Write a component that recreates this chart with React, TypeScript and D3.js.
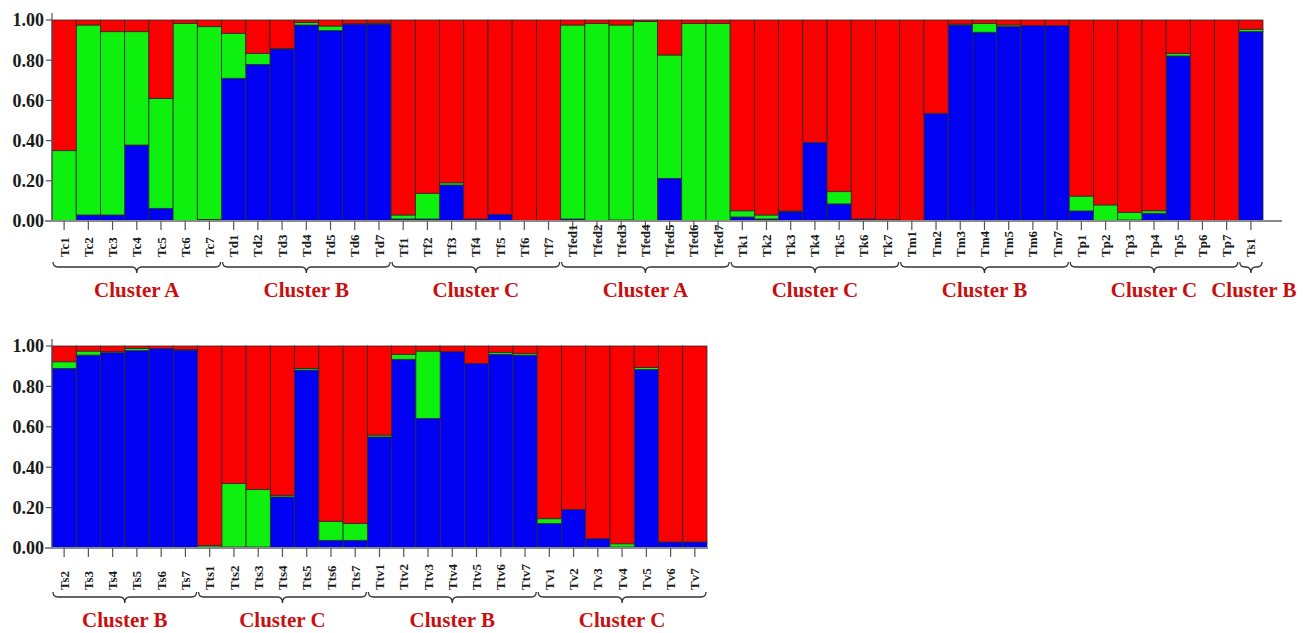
import React from 'react';
import * as d3 from 'd3';

// STRUCTURE-like ancestry bar plot (K = 3), two panels

const topLabels = [
  'Tc1', 'Tc2', 'Tc3', 'Tc4', 'Tc5', 'Tc6', 'Tc7',
  'Td1', 'Td2', 'Td3', 'Td4', 'Td5', 'Td6', 'Td7',
  'Tf1', 'Tf2', 'Tf3', 'Tf4', 'Tf5', 'Tf6', 'Tf7',
  'Tfed1', 'Tfed2', 'Tfed3', 'Tfed4', 'Tfed5', 'Tfed6', 'Tfed7',
  'Tk1', 'Tk2', 'Tk3', 'Tk4', 'Tk5', 'Tk6', 'Tk7',
  'Tm1', 'Tm2', 'Tm3', 'Tm4', 'Tm5', 'Tm6', 'Tm7',
  'Tp1', 'Tp2', 'Tp3', 'Tp4', 'Tp5', 'Tp6', 'Tp7',
  'Ts1'
];
const topBlue = [
  0, 0.03, 0.03, 0.378, 0.063, 0, 0.008,
  0.71, 0.779, 0.856, 0.975, 0.947, 0.98, 0.98,
  0.01, 0.01, 0.179, 0.01, 0.033, 0.002, 0,
  0.01, 0.003, 0.005, 0, 0.212, 0, 0,
  0.02, 0.01, 0.046, 0.39, 0.085, 0.01, 0.007,
  0.003, 0.536, 0.975, 0.939, 0.967, 0.972, 0.972,
  0.05, 0.003, 0.005, 0.038, 0.821, 0, 0,
  0.942
];
const topGreen = [
  0.35, 0.945, 0.912, 0.564, 0.547, 0.983, 0.959,
  0.224, 0.055, 0.003, 0.012, 0.023, 0.002, 0.005,
  0.02, 0.128, 0.011, 0, 0, 0, 0,
  0.965, 0.98, 0.97, 0.993, 0.614, 0.983, 0.983,
  0.031, 0.02, 0.004, 0, 0.061, 0, 0,
  0, 0, 0.005, 0.044, 0.008, 0, 0,
  0.074, 0.077, 0.038, 0.013, 0.013, 0, 0,
  0.012
];
const topRed = [
  0.65, 0.025, 0.058, 0.058, 0.39, 0.017, 0.033,
  0.066, 0.166, 0.141, 0.013, 0.03, 0.018, 0.015,
  0.97, 0.862, 0.81, 0.99, 0.967, 0.998, 1,
  0.025, 0.017, 0.025, 0.007, 0.174, 0.017, 0.017,
  0.949, 0.97, 0.95, 0.61, 0.854, 0.99, 0.993,
  0.997, 0.464, 0.02, 0.017, 0.025, 0.028, 0.028,
  0.876, 0.92, 0.957, 0.949, 0.166, 1, 1,
  0.046
];
const topGroupNames = ['Cluster A', 'Cluster B', 'Cluster C', 'Cluster A', 'Cluster C', 'Cluster B', 'Cluster C', 'Cluster B'];
const topGroupSizes = [7, 7, 7, 7, 7, 7, 7, 1];

const bottomLabels = [
  'Ts2', 'Ts3', 'Ts4', 'Ts5', 'Ts6', 'Ts7',
  'Tts1', 'Tts2', 'Tts3', 'Tts4', 'Tts5', 'Tts6', 'Tts7',
  'Ttv1', 'Ttv2', 'Ttv3', 'Ttv4', 'Ttv5', 'Ttv6', 'Ttv7',
  'Tv1', 'Tv2', 'Tv3', 'Tv4', 'Tv5', 'Tv6', 'Tv7'
];
const bottomBlue = [
  0.889, 0.955, 0.967, 0.977, 0.988, 0.98,
  0.005, 0.005, 0.005, 0.253, 0.881, 0.038, 0.038,
  0.55, 0.934, 0.641, 0.972, 0.914, 0.959, 0.955,
  0.121, 0.19, 0.046, 0.005, 0.884, 0.03, 0.03
];
const bottomGreen = [
  0.033, 0.02, 0.005, 0.011, 0, 0.003,
  0.008, 0.314, 0.284, 0.008, 0.008, 0.094, 0.083,
  0.009, 0.025, 0.334, 0, 0, 0.01, 0.009,
  0.024, 0, 0, 0.016, 0.01, 0, 0
];
const bottomRed = [
  0.078, 0.025, 0.028, 0.012, 0.012, 0.017,
  0.987, 0.681, 0.711, 0.739, 0.111, 0.868, 0.879,
  0.441, 0.041, 0.025, 0.028, 0.086, 0.031, 0.036,
  0.855, 0.81, 0.954, 0.979, 0.106, 0.97, 0.97
];
const bottomGroupNames = ['Cluster B', 'Cluster C', 'Cluster B', 'Cluster C'];
const bottomGroupSizes = [6, 7, 7, 7];

const yTicks = [0, 0.2, 0.4, 0.6, 0.8, 1];

const KEYS = ['blue', 'green', 'red'];
const COLORS: Record<string, string> = { blue: '#0000f2', green: '#0ef00e', red: '#fa0000' };
const FONT = '"Liberation Serif", "Times New Roman", serif';

type PanelProps = {
  labels: string[];
  blue: number[];
  green: number[];
  red: number[];
  groupNames: string[];
  groupSizes: number[];
  top: number;
  base: number;
  x0: number;
  x1: number;
  axisEnd: number;
  labelY: number;
  braceY: number;
  clusterY: number;
};

function Panel(p: PanelProps) {
  const x = d3.scaleBand<string>().domain(p.labels).range([p.x0, p.x1]).padding(0);
  const y = d3.scaleLinear().domain([0, 1]).range([p.base, p.top]);
  const rows = p.labels.map((l, i) => ({ label: l, blue: p.blue[i], green: p.green[i], red: p.red[i] }));
  const series = d3.stack<any>().keys(KEYS)(rows);
  const fmt = d3.format('.2f');

  // group spans
  let start = 0;
  const groups = p.groupSizes.map((n, gi) => {
    const a = x(p.labels[start])!;
    const b = x(p.labels[start + n - 1])! + x.bandwidth();
    start += n;
    return { name: p.groupNames[gi], a, b };
  });

  const bw = x.bandwidth();
  return (
    <g>
      {/* bars */}
      {series.map(s => (
        <g key={s.key} fill={COLORS[s.key]}>
          {s.map((d, i) => (
            d[1] - d[0] > 0 ? (
              <rect key={i} x={x(p.labels[i])} y={y(d[1])} width={bw} height={y(d[0]) - y(d[1])}
                stroke="#2a2a2a" strokeWidth={0.8} />
            ) : null
          ))}
        </g>
      ))}
      {/* y axis */}
      <line x1={p.x0} x2={p.x0} y1={p.top - 7} y2={p.base} stroke="#555" strokeWidth={1.2} />
      {yTicks.map(t => (
        <g key={t}>
          <line x1={p.x0 - 6} x2={p.x0} y1={y(t)} y2={y(t)} stroke="#555" strokeWidth={1.2} />
          <text x={p.x0 - 8} y={y(t)} dy="0.35em" textAnchor="end" fontFamily={FONT} fontWeight="bold"
            fontSize={18} fill="#1a1a1a">{fmt(t)}</text>
        </g>
      ))}
      {/* x axis */}
      <line x1={p.x0 - 7} x2={p.axisEnd} y1={p.base} y2={p.base} stroke="#8a8a8a" strokeWidth={2.2} />
      {p.labels.map(l => {
        const cx = x(l)! + bw / 2;
        return (
          <g key={l}>
            <line x1={cx} x2={cx} y1={p.base} y2={p.base + 9} stroke="#555" strokeWidth={1.2} />
            <text transform={`translate(${cx},${p.labelY}) rotate(-90)`} dy="0.35em" textAnchor="start"
              fontFamily={FONT} fontWeight="bold" fontSize={13} fill="#1a1a1a">{l}</text>
          </g>
        );
      })}
      {/* braces and cluster names */}
      {groups.map((g, i) => {
        const a = g.a + 1, b = g.b - 1, yb = p.braceY, m = (a + b) / 2;
        const r = Math.min(5, (b - a) / 4);
        const d = `M${a},${yb - 5} Q${a},${yb} ${a + r},${yb} L${m - r},${yb} Q${m},${yb} ${m},${yb + 6} Q${m},${yb} ${m + r},${yb} L${b - r},${yb} Q${b},${yb} ${b},${yb - 5}`;
        return (
          <g key={i}>
            <path d={d} fill="none" stroke="#333" strokeWidth={1.3} />
            <text x={m + (g.b - g.a < 40 ? 3 : 0)} y={p.clusterY} textAnchor="middle" fontFamily={FONT}
              fontWeight="bold" fontSize={21} fill="#c8100f">{g.name}</text>
          </g>
        );
      })}
    </g>
  );
}

export default function App() {
  return (
    <div style={{ position: 'absolute', left: 0, top: 0, width: 1313, height: 633, background: '#fff' }}>
      <svg width={1313} height={633} style={{ display: 'block' }}>
        <Panel labels={topLabels} blue={topBlue} green={topGreen} red={topRed}
          groupNames={topGroupNames} groupSizes={topGroupSizes}
          top={20} base={221} x0={52} x1={1263} axisEnd={1282}
          labelY={257} braceY={267} clusterY={297} />
        <Panel labels={bottomLabels} blue={bottomBlue} green={bottomGreen} red={bottomRed}
          groupNames={bottomGroupNames} groupSizes={bottomGroupSizes}
          top={346} base={548} x0={52} x1={707} axisEnd={708}
          labelY={590} braceY={597} clusterY={627} />
      </svg>
    </div>
  );
}
